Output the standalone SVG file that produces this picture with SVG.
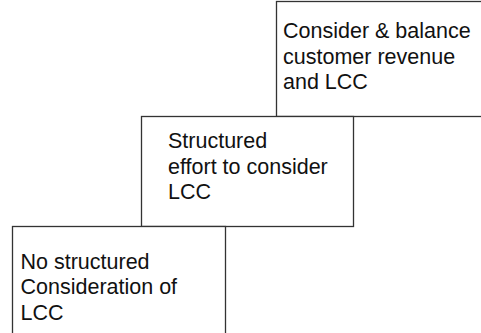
<svg xmlns="http://www.w3.org/2000/svg" width="481" height="333" viewBox="0 0 481 333">
<style>
.box{fill:#ffffff;stroke:#333333;stroke-width:1.3}
.t{font-family:"Liberation Sans",Arial,sans-serif;font-size:21.5px;fill:#111111}
</style>
<rect width="481" height="333" fill="#ffffff"/>
<g id="node-top">
<rect class="box" x="276.5" y="1.5" width="220" height="115"/>
<text class="t" x="283" y="38">Consider &amp; balance</text>
<text class="t" x="283" y="63.5">customer revenue</text>
<text class="t" x="283" y="89">and LCC</text>
</g>
<g id="node-middle">
<rect class="box" x="141.5" y="116.5" width="212" height="110"/>
<text class="t" x="168" y="148">Structured</text>
<text class="t" x="168" y="173.5">effort to consider</text>
<text class="t" x="168" y="199">LCC</text>
</g>
<g id="node-bottom">
<rect class="box" x="12.5" y="226.5" width="213" height="120"/>
<text class="t" x="20.5" y="268.5">No structured</text>
<text class="t" x="20.5" y="294">Consideration of</text>
<text class="t" x="20.5" y="319.5">LCC</text>
</g>
<g id="connectors"></g>
</svg>
